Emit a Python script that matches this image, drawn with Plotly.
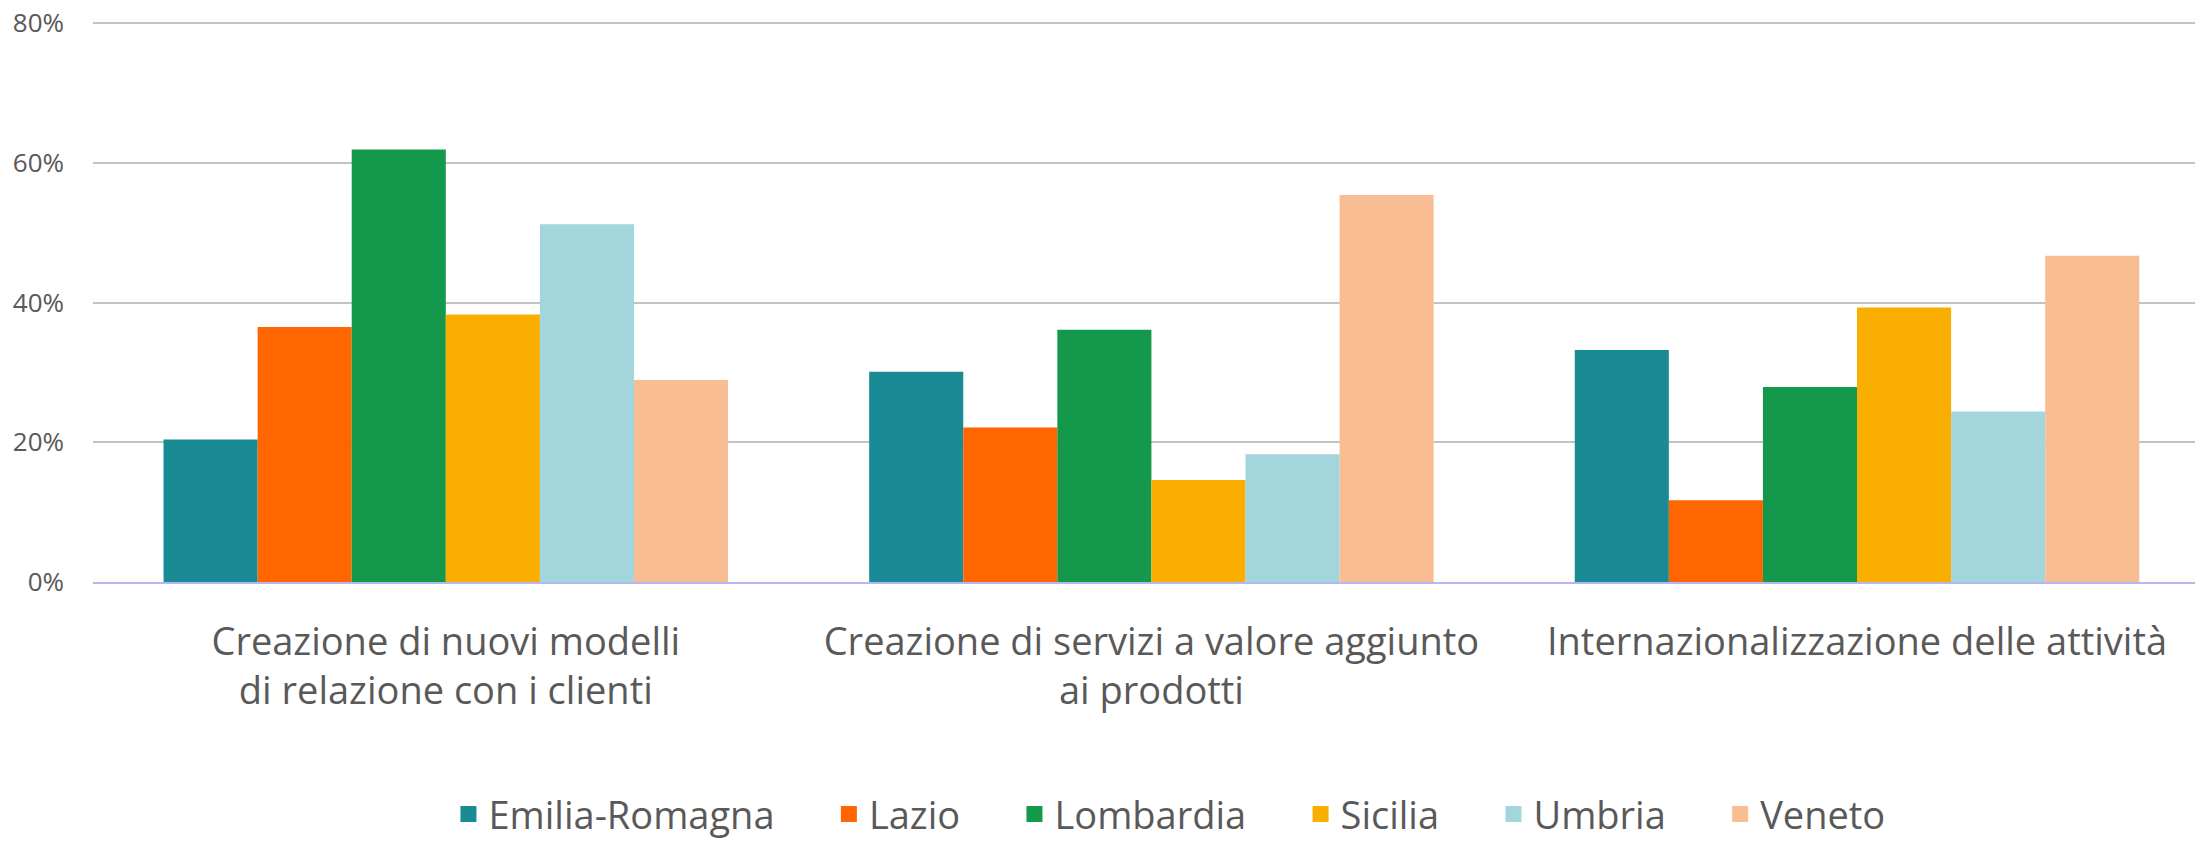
import plotly.graph_objects as go

categories = [
    "Creazione di nuovi modelli<br>di relazione con i clienti",
    "Creazione di servizi a valore aggiunto<br>ai prodotti",
    "Internazionalizzazione delle attività",
]
regions = ["Emilia-Romagna", "Lazio", "Lombardia", "Sicilia", "Umbria", "Veneto"]
colors = ["#1a8a94", "#ff6600", "#13984c", "#f9ae00", "#a2d5dc", "#f9bd94"]

emilia_romagna = [20.4, 30.1, 33.2]
lazio = [36.5, 22.1, 11.7]
lombardia = [61.9, 36.1, 27.9]
sicilia = [38.3, 14.6, 39.3]
umbria = [51.2, 18.3, 24.4]
veneto = [28.9, 55.4, 46.7]
series = [emilia_romagna, lazio, lombardia, sicilia, umbria, veneto]

y_ticks = [0, 20, 40, 60, 80]
y_tick_labels = ["0%", "20%", "40%", "60%", "80%"]

FONT = "Open Sans, Noto Sans, sans-serif"
TXT = "#595959"

fig = go.Figure()
for name, vals, col in zip(regions, series, colors):
    fig.add_trace(go.Bar(
        x=categories, y=vals, name=name, marker_color=col,
        marker_line_width=0, showlegend=False,
    ))
# legend proxies (larger square swatches)
for name, col in zip(regions, colors):
    fig.add_trace(go.Scatter(
        x=[None], y=[None], mode="markers", name=name + "\u00a0" * 5,
        marker=dict(symbol="square", size=16, color=col, line_width=0),
        showlegend=True,
    ))

fig.update_layout(
    width=2195, height=842,
    margin=dict(l=93, r=0, t=21, b=260, pad=0, autoexpand=False),
    paper_bgcolor="white", plot_bgcolor="white",
    barmode="group", bargap=0.2, bargroupgap=0,
    font=dict(family=FONT, color=TXT),
    showlegend=True,
    legend=dict(
        orientation="h", x=0.524, xanchor="center", y=-0.414, yanchor="middle",
        font=dict(size=38, color=TXT, family=FONT),
        itemclick=False, bgcolor="rgba(0,0,0,0)",
    ),
    xaxis=dict(
        type="category", range=[-0.5, 2.479],
        showgrid=False, zeroline=False,
        showline=True, linecolor="#b7b7f0", linewidth=2,
        ticks="", tickfont=dict(size=38, color=TXT, family=FONT),
        ticklabelstandoff=25,
    ),
    yaxis=dict(
        range=[0, 80.3], tickvals=y_ticks, ticktext=y_tick_labels,
        showgrid=True, gridcolor="#c3c3c3", gridwidth=2,
        zeroline=False, showline=False, ticks="",
        tickfont=dict(size=26, color=TXT, family=FONT),
        ticklabelstandoff=28,
    ),
)

fig.write_html(
    "out.html",
    config={"displayModeBar": False},
    post_script="document.body.style.margin='0';",
)
